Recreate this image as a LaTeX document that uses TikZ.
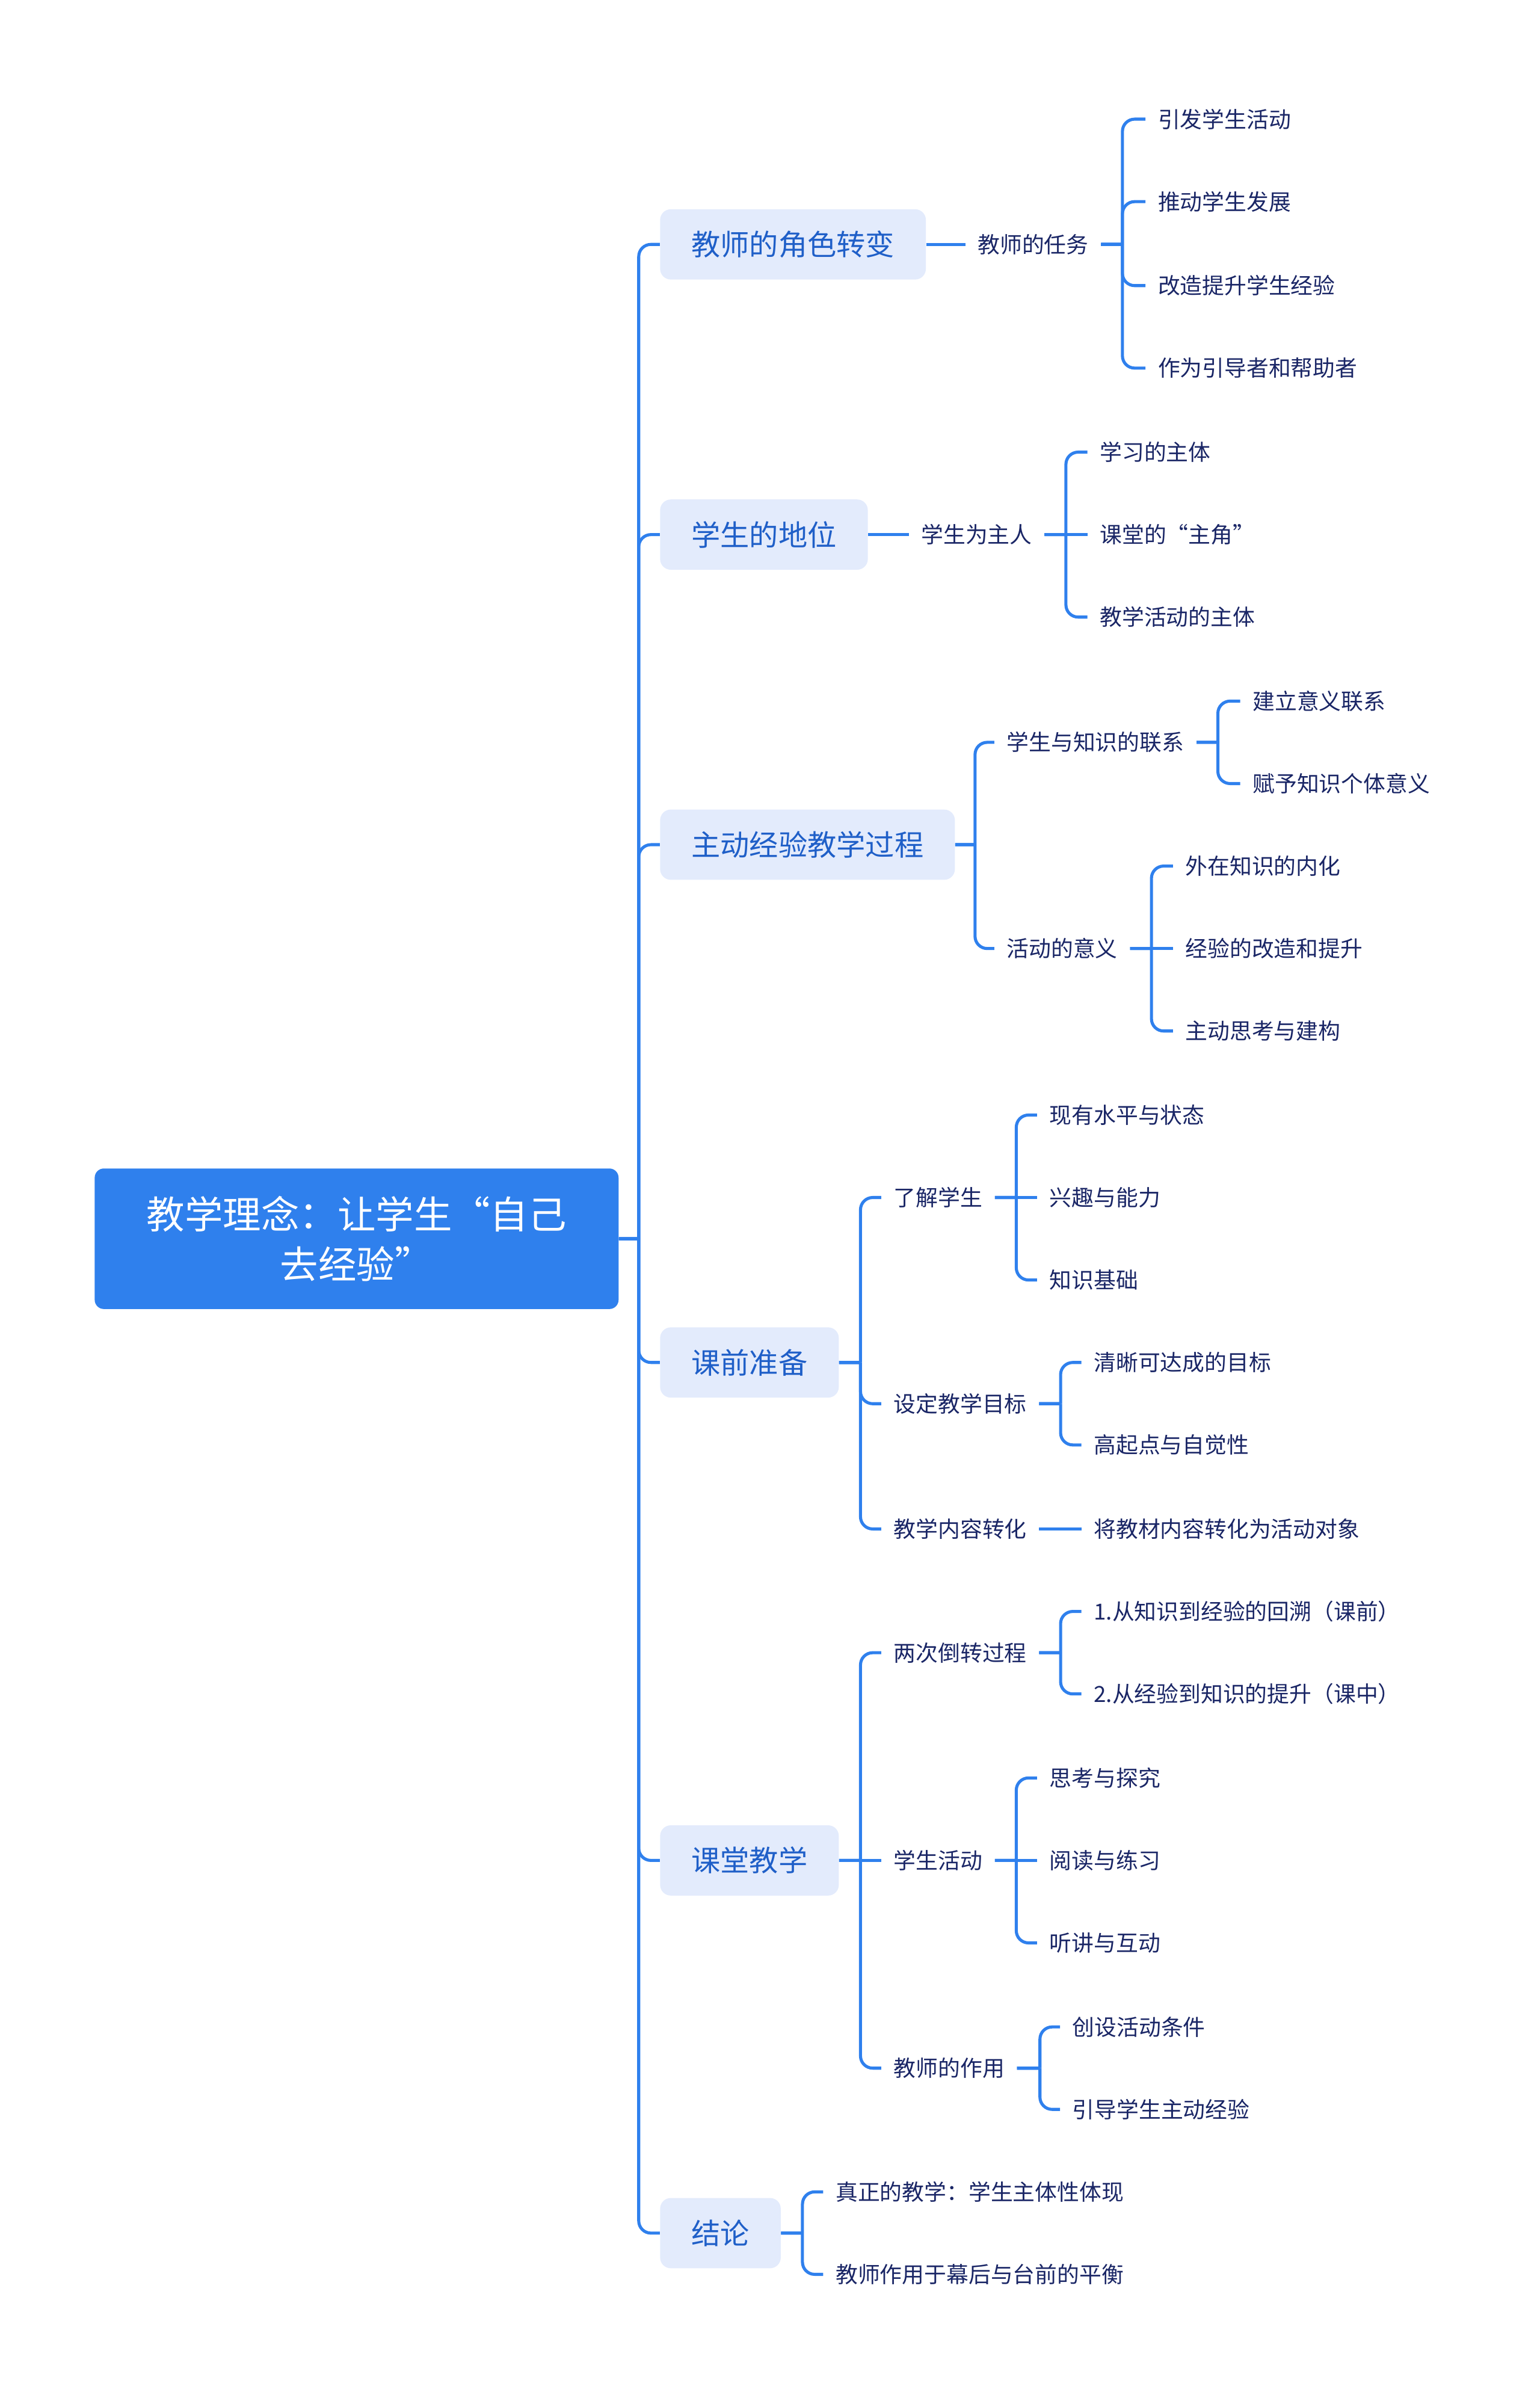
\documentclass[tikz,border=0pt]{standalone}
\usepackage{fontspec}
\setmainfont{Noto Sans CJK SC}
\usetikzlibrary{positioning}
\definecolor{mapblue}{RGB}{47,128,237}
\definecolor{topicfill}{RGB}{227,235,252}
\definecolor{topictext}{RGB}{31,95,200}
\definecolor{leaftext}{RGB}{26,38,102}
\tikzstyle{rootbox} = [rectangle, rounded corners=6pt, fill=mapblue, text=white, minimum width=343pt, minimum height=92pt, align=center, font=\fontsize{25}{32.5}\selectfont]
\tikzstyle{topic} = [rectangle, rounded corners=7pt, fill=topicfill, text=topictext, minimum height=46pt, inner xsep=20.5pt, anchor=west, font=\fontsize{19}{22}\selectfont]
\tikzstyle{leaf} = [inner xsep=8pt, inner ysep=2pt, anchor=west, text=leaftext, font=\fontsize{14.5}{17}\selectfont]
\tikzstyle{conn} = [draw=mapblue, line width=2pt, rounded corners=8pt]
\tikzset{branch/.style={to path={-- ++(#1,0) ++(0,0) |- (\tikztotarget)}}}

\begin{document}
\begin{tikzpicture}[x=1pt, y=-1pt]
  \useasboundingbox (0,0) rectangle (1008,1568);
  % Központi téma
  \node (root) [rootbox] at (233.5,811) {教学理念：让学生“自己\\去经验”};
  % Első szint
  \node (role) [topic] at (432,160) {教师的角色转变};
  \node (status) [topic] at (432,350) {学生的地位};
  \node (process) [topic] at (432,553) {主动经验教学过程};
  \node (prep) [topic] at (432,892) {课前准备};
  \node (class) [topic] at (432,1218) {课堂教学};
  \node (concl) [topic] at (432,1462) {结论};
  % 教师的角色转变
  \node (task) [leaf] at (632,160) {教师的任务};
  \node (task1) [leaf] at (750,78) {引发学生活动};
  \node (task2) [leaf] at (750,132) {推动学生发展};
  \node (task3) [leaf] at (750,187) {改造提升学生经验};
  \node (task4) [leaf] at (750,241) {作为引导者和帮助者};
  % 学生的地位
  \node (master) [leaf] at (595,350) {学生为主人};
  \node (master1) [leaf] at (712,296) {学习的主体};
  \node (master2) [leaf] at (712,350) {课堂的“主角”};
  \node (master3) [leaf] at (712,404) {教学活动的主体};
  % 主动经验教学过程
  \node (knowl) [leaf] at (651,486) {学生与知识的联系};
  \node (knowl1) [leaf] at (812,459) {建立意义联系};
  \node (knowl2) [leaf] at (812,513) {赋予知识个体意义};
  \node (act) [leaf] at (651,621) {活动的意义};
  \node (act1) [leaf] at (768,567) {外在知识的内化};
  \node (act2) [leaf] at (768,621) {经验的改造和提升};
  \node (act3) [leaf] at (768,675) {主动思考与建构};
  % 课前准备
  \node (know) [leaf] at (577,784) {了解学生};
  \node (know1) [leaf] at (679,730) {现有水平与状态};
  \node (know2) [leaf] at (679,784) {兴趣与能力};
  \node (know3) [leaf] at (679,838) {知识基础};
  \node (goal) [leaf] at (577,919) {设定教学目标};
  \node (goal1) [leaf] at (708,892) {清晰可达成的目标};
  \node (goal2) [leaf] at (708,946) {高起点与自觉性};
  \node (content) [leaf] at (577,1001) {教学内容转化};
  \node (content1) [leaf] at (708,1001) {将教材内容转化为活动对象};
  % 课堂教学
  \node (turn) [leaf] at (577,1082) {两次倒转过程};
  \node (turn1) [leaf] at (708,1055) {1.从知识到经验的回溯（课前）};
  \node (turn2) [leaf] at (708,1109) {2.从经验到知识的提升（课中）};
  \node (stud) [leaf] at (577,1218) {学生活动};
  \node (stud1) [leaf] at (679,1164) {思考与探究};
  \node (stud2) [leaf] at (679,1218) {阅读与练习};
  \node (stud3) [leaf] at (679,1272) {听讲与互动};
  \node (teach) [leaf] at (577,1354) {教师的作用};
  \node (teach1) [leaf] at (694,1327) {创设活动条件};
  \node (teach2) [leaf] at (694,1381) {引导学生主动经验};
  % 结论
  \node (concl1) [leaf] at (539,1435) {真正的教学：学生主体性体现};
  \node (concl2) [leaf] at (539,1489) {教师作用于幕后与台前的平衡};
  % Vonalak
  \draw [conn] (root.east) to[branch=13] (role.west);
  \draw [conn] (root.east) to[branch=13] (status.west);
  \draw [conn] (root.east) to[branch=13] (process.west);
  \draw [conn] (root.east) to[branch=13] (prep.west);
  \draw [conn] (root.east) to[branch=13] (class.west);
  \draw [conn] (root.east) to[branch=13] (concl.west);
  \draw [conn] (role.east) -- (task.west);
  \draw [conn] (task.east) to[branch=14] (task1.west);
  \draw [conn] (task.east) to[branch=14] (task2.west);
  \draw [conn] (task.east) to[branch=14] (task3.west);
  \draw [conn] (task.east) to[branch=14] (task4.west);
  \draw [conn] (status.east) -- (master.west);
  \draw [conn] (master.east) to[branch=14] (master1.west);
  \draw [conn] (master.east) -- (master2.west);
  \draw [conn] (master.east) to[branch=14] (master3.west);
  \draw [conn] (process.east) to[branch=13] (knowl.west);
  \draw [conn] (process.east) to[branch=13] (act.west);
  \draw [conn] (knowl.east) to[branch=14] (knowl1.west);
  \draw [conn] (knowl.east) to[branch=14] (knowl2.west);
  \draw [conn] (act.east) to[branch=14] (act1.west);
  \draw [conn] (act.east) -- (act2.west);
  \draw [conn] (act.east) to[branch=14] (act3.west);
  \draw [conn] (prep.east) to[branch=14] (know.west);
  \draw [conn] (prep.east) to[branch=14] (goal.west);
  \draw [conn] (prep.east) to[branch=14] (content.west);
  \draw [conn] (know.east) to[branch=14] (know1.west);
  \draw [conn] (know.east) -- (know2.west);
  \draw [conn] (know.east) to[branch=14] (know3.west);
  \draw [conn] (goal.east) to[branch=14] (goal1.west);
  \draw [conn] (goal.east) to[branch=14] (goal2.west);
  \draw [conn] (content.east) -- (content1.west);
  \draw [conn] (class.east) to[branch=14] (turn.west);
  \draw [conn] (class.east) -- (stud.west);
  \draw [conn] (class.east) to[branch=14] (teach.west);
  \draw [conn] (turn.east) to[branch=14] (turn1.west);
  \draw [conn] (turn.east) to[branch=14] (turn2.west);
  \draw [conn] (stud.east) to[branch=14] (stud1.west);
  \draw [conn] (stud.east) -- (stud2.west);
  \draw [conn] (stud.east) to[branch=14] (stud3.west);
  \draw [conn] (teach.east) to[branch=15] (teach1.west);
  \draw [conn] (teach.east) to[branch=15] (teach2.west);
  \draw [conn] (concl.east) to[branch=14] (concl1.west);
  \draw [conn] (concl.east) to[branch=14] (concl2.west);
\end{tikzpicture}
\end{document}
